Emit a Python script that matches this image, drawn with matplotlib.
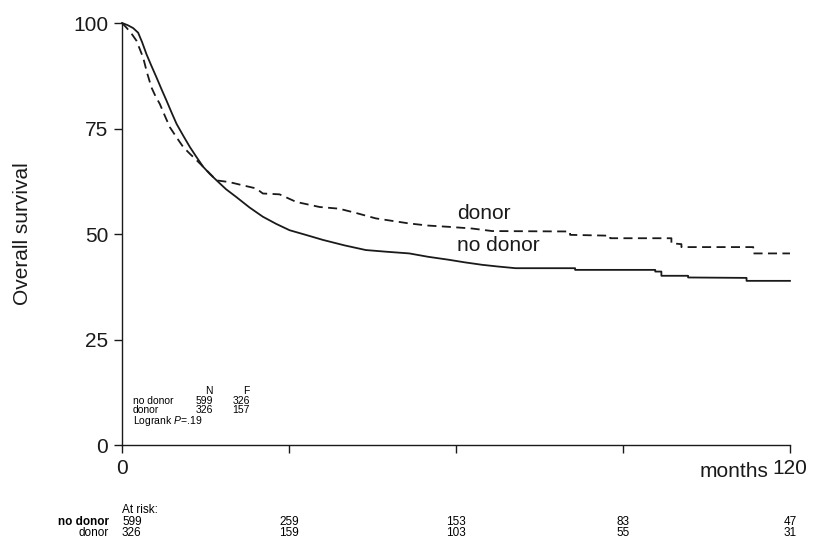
import numpy as np
import matplotlib
matplotlib.use('Agg')
import matplotlib.pyplot as plt

plt.rcParams['font.family'] = ['Liberation Sans', 'DejaVu Sans']
plt.rcParams['mathtext.fontset'] = 'custom'
plt.rcParams['mathtext.it'] = 'Liberation Sans:italic'
plt.rcParams['mathtext.rm'] = 'Liberation Sans'

# Kaplan-Meier curves (months, % surviving);
# repeated times are the visible drops in the flat late part
t_nodonor = [0, 1, 2, 2.9, 3.6, 4.4, 5.3, 6.2, 7.1, 8.0, 8.9, 9.8, 11, 12.2, 13.4, 14.6,
             15.8, 17.0, 18.7, 20.5, 22.9, 25.3, 27.7, 30.1, 33, 36.1, 40, 43.8, 47.5,
             51.6, 55, 58.7, 61.5, 64.7, 67.5, 70.7, 81.4, 81.4, 95.8, 95.8, 96.9, 96.9,
             101.7, 101.7, 112.2, 112.2, 120]
s_nodonor = [100, 99.5, 98.8, 97.7, 95.5, 92.6, 89.8, 87.1, 84.3, 81.6, 78.8, 76.1, 73.3,
             70.6, 68.2, 65.9, 64.2, 62.7, 60.6, 58.8, 56.3, 54.1, 52.4, 50.9, 49.8, 48.6,
             47.3, 46.2, 45.8, 45.4, 44.6, 43.9, 43.3, 42.7, 42.3, 41.9, 41.9, 41.5, 41.5,
             41.1, 41.1, 40.1, 40.1, 39.7, 39.6, 38.9, 38.9]

t_donor = [0, 0.8, 1.7, 2.6, 3.2, 3.8, 4.5, 5.3, 6.0, 6.8, 7.7, 8.6, 9.8, 11.0, 12.2, 13.4,
           15.2, 17.0, 19.3, 21.5, 24.1, 25.3, 28.3, 31.3, 35.5, 39.0, 42, 45.6, 51.6, 55,
           58.7, 62.9, 66.5, 80.5, 80.5, 87.7, 87.7, 98.7, 98.7, 100.5, 100.5, 113.4,
           113.4, 120]
s_donor = [100, 98.9, 97.5, 95.8, 93.8, 91.8, 88.2, 84.7, 82.7, 80.8, 78.0, 75.3, 72.9, 70.6,
           69.0, 67.5, 65.1, 62.7, 62.3, 61.6, 60.8, 59.6, 59.4, 57.6, 56.4, 56.0, 55.0, 53.7,
           52.5, 52.0, 51.7, 51.3, 50.7, 50.6, 49.8, 49.6, 49.0, 49.0, 47.8, 47.6, 46.9,
           46.9, 45.4, 45.4]

risk_times = [0, 30, 60, 90, 120]
risk_nodonor = [599, 259, 153, 83, 47]
risk_donor = [326, 159, 103, 55, 31]

table_N = [599, 326]
table_F = [326, 157]
logrank_p = '.19'

ink = '#1a1a1a'
big = 15
small = 8.5
tiny = 7.5

fig = plt.figure(figsize=(8.21, 5.40), dpi=100)
ax = fig.add_axes([0.1486, 0.1759, 0.8136, 0.7815])

ax.plot(t_nodonor, s_nodonor, color=ink, lw=1.3, clip_on=False)
ax.plot(t_donor, s_donor, color=ink, lw=1.3, ls=(0, (5, 3)), clip_on=False)

ax.set_xlim(0, 120)
ax.set_ylim(0, 100)
ax.spines['top'].set_visible(False)
ax.spines['right'].set_visible(False)
for sp in ['left', 'bottom']:
    ax.spines[sp].set_linewidth(1.0)
    ax.spines[sp].set_color(ink)

ax.set_yticks([0, 25, 50, 75, 100])
ax.set_xticks(risk_times)
ax.set_xticklabels(['0', '', '', '', '120'])
ax.tick_params(axis='both', length=6, width=1.0, color=ink, labelsize=big,
               labelcolor=ink, pad=4)
ax.set_ylabel('Overall survival', fontsize=big, color=ink)
ax.yaxis.set_label_coords(-0.135, 0.5)

ax.text(116.2, -0.063, 'months', transform=ax.get_xaxis_transform(), ha='right', va='center',
        fontsize=big, color=ink)
ax.text(60.2, 54.9, 'donor', fontsize=big, color=ink, va='center')
ax.text(60.2, 47.2, 'no donor', fontsize=big, color=ink, va='center')

# N / F table inside the plot
ax.text(0.136, 0.121, 'N', transform=ax.transAxes, ha='right', va='baseline', fontsize=tiny)
ax.text(0.1916, 0.121, 'F', transform=ax.transAxes, ha='right', va='baseline', fontsize=tiny)
for i, (lab, n, f) in enumerate(zip(['no donor', 'donor'], table_N, table_F)):
    y = 0.098 - i * 0.023
    ax.text(0.016, y, lab, transform=ax.transAxes, ha='left', va='baseline', fontsize=tiny)
    ax.text(0.136, y, str(n), transform=ax.transAxes, ha='right', va='baseline', fontsize=tiny)
    ax.text(0.1916, y, str(f), transform=ax.transAxes, ha='right', va='baseline', fontsize=tiny)
ax.text(0.016, 0.049, 'Logrank $P$=' + logrank_p, transform=ax.transAxes, ha='left',
        va='baseline', fontsize=tiny)

# numbers at risk
tr = ax.get_xaxis_transform()
ax.text(0, -0.154, 'At risk:', transform=tr, ha='left', va='center', fontsize=small)
for row_y, lab, vals, wt in [(-0.182, 'no donor', risk_nodonor, 'bold'),
                             (-0.2085, 'donor', risk_donor, 'normal')]:
    ax.text(-0.0195, row_y, lab, transform=ax.transAxes, ha='right', va='center',
            fontsize=small, fontweight=wt)
    for k, (tt, v) in enumerate(zip(risk_times, vals)):
        ax.text(tt, row_y, str(v), transform=tr, ha='left' if k == 0 else 'center',
                va='center', fontsize=small)

fig.savefig('out.png', dpi=100)
